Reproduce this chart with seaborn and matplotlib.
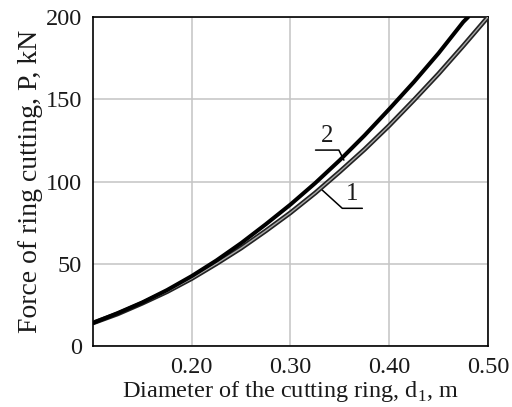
import pandas as pd
import numpy as np
import seaborn as sns
import matplotlib.pyplot as plt

# values
diameter = [0.100, 0.125, 0.150, 0.175, 0.200, 0.225, 0.250, 0.275, 0.300,
            0.325, 0.350, 0.375, 0.400, 0.425, 0.450, 0.475, 0.500]
force_1 = [14, 19.5, 26, 33, 41, 50, 59.5, 70, 81,
           93, 106, 119.5, 134, 149.5, 165.5, 182.5, 200]
diameter_2 = [0.100, 0.125, 0.150, 0.175, 0.200, 0.225, 0.250, 0.275, 0.300,
              0.325, 0.350, 0.375, 0.400, 0.425, 0.450, 0.475, 0.480]
force_2 = [14, 20, 26.5, 34, 42.5, 52, 62.5, 74, 86,
           99, 113, 128, 144, 160.5, 178, 197, 200]

xticks = [0.2, 0.3, 0.4, 0.5]
xtick_labels = ["0.20", "0.30", "0.40", "0.50"]
yticks = [0, 50, 100, 150, 200]

df1 = pd.DataFrame({"d": diameter, "P": force_1})
df2 = pd.DataFrame({"d": diameter_2, "P": force_2})

sns.set_theme(style="white")
plt.rcParams["font.family"] = ["Liberation Serif", "DejaVu Serif"]
plt.rcParams["mathtext.fontset"] = "custom"
plt.rcParams["mathtext.rm"] = "Liberation Serif"

fig = plt.figure(figsize=(5.12, 4.07), dpi=100)
ax = fig.add_axes([0.1816, 0.1499, 0.7714, 0.8083])

# curve 1: dark outline with light core, curve 2: solid black
sns.lineplot(data=df1, x="d", y="P", ax=ax, color="#222222", lw=3.4, zorder=3)
sns.lineplot(data=df1, x="d", y="P", ax=ax, color="#a8a8a8", lw=1.0, zorder=4)
sns.lineplot(data=df2, x="d", y="P", ax=ax, color="black", lw=2.9, zorder=5)

ax.set_xlim(0.1, 0.5)
ax.set_ylim(0, 200)
ax.set_xticks(xticks)
ax.set_xticklabels(xtick_labels)
ax.set_yticks(yticks)
ax.grid(True, color="#c4c4c4", lw=1.1)
ax.tick_params(length=0, labelsize=17.5, colors="#1a1a1a")
ax.tick_params(axis="x", pad=8)
ax.tick_params(axis="y", pad=8)
for s in ax.spines.values():
    s.set_color("black")
    s.set_linewidth(1.2)

ax.set_xlabel(r"Diameter of the cutting ring, d$_\mathregular{1}$, m",
              fontsize=17.5, color="#1a1a1a", labelpad=1)
ax.set_ylabel("Force of ring cutting, P, kN", fontsize=20, color="#1a1a1a",
              labelpad=2)

# curve labels with leader lines
ax.plot([0.3254, 0.349, 0.3541], [119.1, 119.1, 113], color="black", lw=1.1)
ax.text(0.3372, 121, "2", fontsize=18, ha="center", va="bottom", color="#1a1a1a")
ax.plot([0.3305, 0.3525, 0.3728], [95.7, 83.7, 83.7], color="black", lw=1.1)
ax.text(0.3626, 85.5, "1", fontsize=18, ha="center", va="bottom", color="#1a1a1a")

plt.savefig("out.png", dpi=100, facecolor="white")
